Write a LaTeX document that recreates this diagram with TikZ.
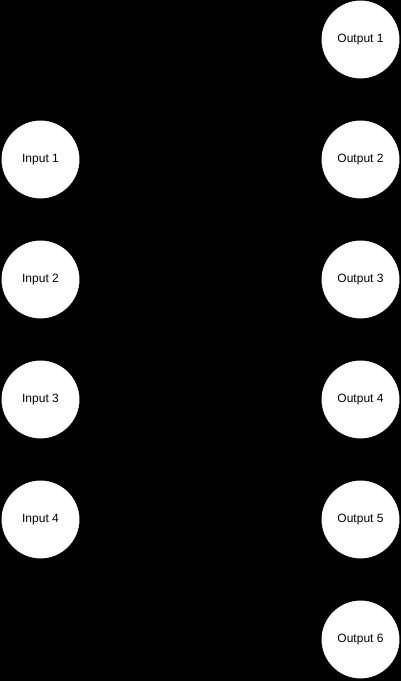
\documentclass[tikz,border=0pt]{standalone}
\usepackage{fontspec}
\setmainfont{Liberation Sans}
\begin{document}
\begin{tikzpicture}[x=1pt,y=-1pt,
  unit/.style={circle,fill=white,draw=black,line width=1pt,minimum size=79pt,inner sep=0pt,font=\fontsize{12}{14}\selectfont}]
\fill[black] (0,0) rectangle (401,681);
\useasboundingbox (0,0) rectangle (401,681);
\node[unit] (in1) at (40.5,159.5) {Input 1};
\node[unit] (in2) at (40.5,279.5) {Input 2};
\node[unit] (in3) at (40.5,399.5) {Input 3};
\node[unit] (in4) at (40.5,519.5) {Input 4};
\node[unit] (out1) at (360.5,39.5) {Output 1};
\node[unit] (out2) at (360.5,159.5) {Output 2};
\node[unit] (out3) at (360.5,279.5) {Output 3};
\node[unit] (out4) at (360.5,399.5) {Output 4};
\node[unit] (out5) at (360.5,519.5) {Output 5};
\node[unit] (out6) at (360.5,639.5) {Output 6};
\end{tikzpicture}
\end{document}
